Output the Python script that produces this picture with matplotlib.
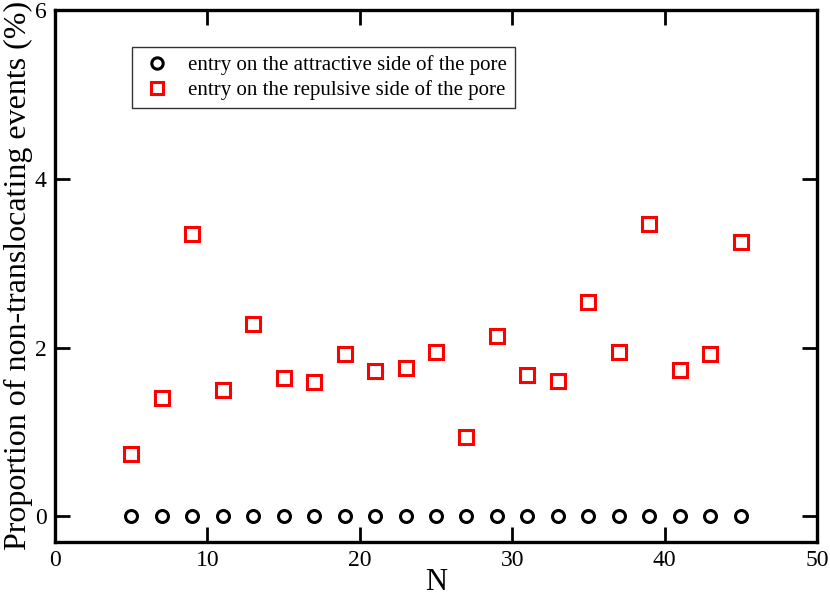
import matplotlib
matplotlib.use("Agg")
import matplotlib.pyplot as plt

plt.rcParams['font.family'] = ['Liberation Serif', 'DejaVu Serif']

N = [5, 7, 9, 11, 13, 15, 17, 19, 21, 23, 25, 27, 29, 31, 33, 35, 37, 39, 41, 43, 45]
attractive = [0] * 21
repulsive = [0.742, 1.397, 3.351, 1.497, 2.285, 1.634, 1.591, 1.930, 1.725, 1.761, 1.950,
             0.940, 2.143, 1.670, 1.607, 2.539, 1.942, 3.466, 1.734, 1.930, 3.256]

fig = plt.figure(figsize=(8.3, 5.96), dpi=100)
ax = fig.add_axes([0.0663, 0.0911, 0.9180, 0.8921])

ax.plot(N, attractive, linestyle='none', marker='o', ms=8.6, mew=2.2,
        mfc='none', mec='black', label="entry on the attractive side of the pore")
ax.plot(N, repulsive, linestyle='none', marker='s', ms=9.4, mew=2.2,
        mfc='none', mec='red', label="entry on the repulsive side of the pore")

ax.set_xlim(0, 50)
ax.set_ylim(-0.3, 6)
ax.set_xticks([0, 10, 20, 30, 40, 50])
ax.set_yticks([0, 2, 4, 6])
ax.tick_params(direction='in', length=11, width=2, labelsize=17,
               top=True, right=True, pad=6)
for s in ax.spines.values():
    s.set_linewidth(2.4)

ax.set_xlabel("N", fontsize=22, labelpad=-2)
ax.set_ylabel("Proportion of non-translocating events (%)", fontsize=23, labelpad=1)

leg = ax.legend(loc='upper left', bbox_to_anchor=(0.101, 0.930), borderaxespad=0,
                fontsize=15, frameon=True, fancybox=False, edgecolor='black',
                borderpad=0.4, handletextpad=0.7, labelspacing=0.22,
                handlelength=1.6, markerscale=0.95)
leg.get_frame().set_linewidth(1.0)

fig.savefig("out.png", dpi=100)
